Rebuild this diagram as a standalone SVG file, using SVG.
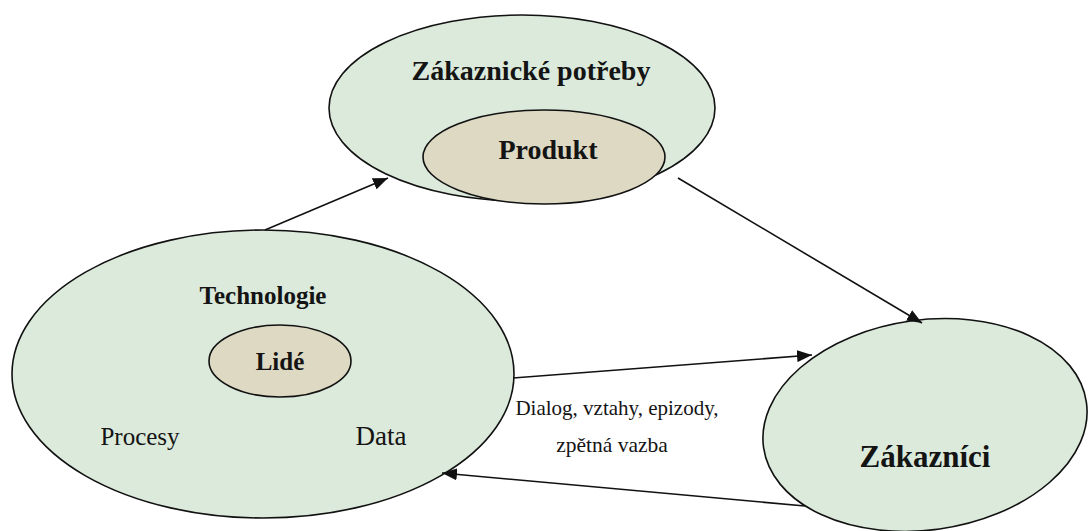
<svg xmlns="http://www.w3.org/2000/svg" width="1089" height="531" viewBox="0 0 1089 531">
  <style>
    .outer { fill: #dbeadb; stroke: #111; stroke-width: 1.6; }
    .inner { fill: #ddd9c3; stroke: #111; stroke-width: 1.6; }
    .lbl { font-family: "Liberation Serif", "Times New Roman", serif; fill: #141414; text-anchor: middle; }
    .b { font-weight: bold; }
    .edge { fill: none; stroke: #111; stroke-width: 1.6; marker-end: url(#arrow); }
  </style>
  <defs>
    <marker id="arrow" markerUnits="userSpaceOnUse" markerWidth="16" markerHeight="12" refX="15" refY="6" orient="auto">
      <path d="M0,0 L15,6 L0,12 z" fill="#111"/>
    </marker>
  </defs>
  <rect width="1089" height="531" fill="#ffffff"/>

  <g id="zakaznicke-potreby">
    <ellipse class="outer" cx="522" cy="108" rx="193" ry="93"/>
    <text class="lbl b" x="531" y="80" font-size="28">Zákaznické potřeby</text>
  </g>

  <g id="produkt">
    <ellipse class="inner" cx="544" cy="157" rx="121" ry="47"/>
    <text class="lbl b" x="548" y="159" font-size="28">Produkt</text>
  </g>

  <g id="technologie">
    <ellipse class="outer" cx="263" cy="374" rx="251" ry="144"/>
    <text class="lbl b" x="263" y="304" font-size="25">Technologie</text>
    <text class="lbl" x="140" y="445" font-size="25">Procesy</text>
    <text class="lbl" x="381" y="445" font-size="27">Data</text>
  </g>

  <g id="lide">
    <ellipse class="inner" cx="280" cy="361" rx="71" ry="36"/>
    <text class="lbl b" x="280" y="370" font-size="25">Lidé</text>
  </g>

  <g id="zakaznici">
    <ellipse class="outer" cx="925" cy="425" rx="163" ry="105" transform="rotate(-8 925 425)"/>
    <text class="lbl b" x="925" y="467" font-size="31">Zákazníci</text>
  </g>

  <g id="connectors">
    <line class="edge" x1="265" y1="230" x2="388" y2="178"/>
    <line class="edge" x1="678" y1="178" x2="922" y2="323"/>
    <line class="edge" x1="513" y1="378" x2="812" y2="355"/>
    <line class="edge" x1="805" y1="506" x2="442" y2="473"/>
    <text class="lbl" x="617" y="415" font-size="21">Dialog, vztahy, epizody,</text>
    <text class="lbl" x="612" y="452" font-size="21.5">zpětná vazba</text>
  </g>
</svg>
